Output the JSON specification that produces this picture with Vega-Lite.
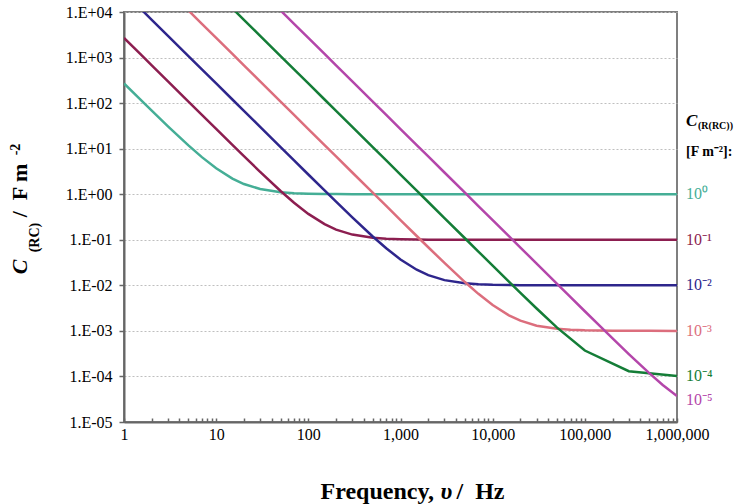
{
  "$schema": "https://vega.github.io/schema/vega-lite/v6.json",
  "width": 553,
  "height": 410,
  "autosize": {"type": "none"},
  "padding": {"left": 124, "top": 12, "right": 61, "bottom": 82},
  "background": "white",
  "config": {"view": {"stroke": "#7f7f7f", "strokeWidth": 2}, "font": "Liberation Serif"},
  "datasets": {
    "curves": [
      {"s":"s0","f":1,"c":271},{"s":"s0","f":1.5,"c":121},{"s":"s0","f":2,"c":68.5},{"s":"s0","f":3,"c":31},{"s":"s0","f":5,"c":11.8},{"s":"s0","f":7,"c":6.51},{"s":"s0","f":10,"c":3.7},{"s":"s0","f":15,"c":2.2},{"s":"s0","f":20,"c":1.675},{"s":"s0","f":30,"c":1.3},{"s":"s0","f":50,"c":1.108},{"s":"s0","f":70,"c":1.055},{"s":"s0","f":100,"c":1.027},{"s":"s0","f":150,"c":1.012},{"s":"s0","f":200,"c":1.0068},{"s":"s0","f":300,"c":1.003},{"s":"s0","f":500,"c":1.001},{"s":"s0","f":1000,"c":1.0003},{"s":"s0","f":10000,"c":1},{"s":"s0","f":100000,"c":1},{"s":"s0","f":1000000,"c":1},
      {"s":"s1","f":1,"c":2700},{"s":"s1","f":1.5,"c":1200},{"s":"s1","f":2,"c":675},{"s":"s1","f":3,"c":300},{"s":"s1","f":5,"c":108},{"s":"s1","f":7,"c":55.2},{"s":"s1","f":10,"c":27.1},{"s":"s1","f":15,"c":12.1},{"s":"s1","f":20,"c":6.85},{"s":"s1","f":30,"c":3.1},{"s":"s1","f":50,"c":1.18},{"s":"s1","f":70,"c":0.651},{"s":"s1","f":100,"c":0.37},{"s":"s1","f":150,"c":0.22},{"s":"s1","f":200,"c":0.1675},{"s":"s1","f":300,"c":0.13},{"s":"s1","f":500,"c":0.1108},{"s":"s1","f":700,"c":0.1055},{"s":"s1","f":1000,"c":0.1027},{"s":"s1","f":1500,"c":0.1012},{"s":"s1","f":2000,"c":0.1007},{"s":"s1","f":3000,"c":0.1003},{"s":"s1","f":5000,"c":0.1001},{"s":"s1","f":10000,"c":0.1},{"s":"s1","f":100000,"c":0.1},{"s":"s1","f":1000000,"c":0.1},
      {"s":"s2","f":1,"c":27000},{"s":"s2","f":1.5,"c":12000},{"s":"s2","f":2,"c":6750},{"s":"s2","f":3,"c":3000},{"s":"s2","f":5,"c":1080},{"s":"s2","f":7,"c":551},{"s":"s2","f":10,"c":270},{"s":"s2","f":15,"c":120},{"s":"s2","f":20,"c":67.5},{"s":"s2","f":30,"c":30},{"s":"s2","f":50,"c":10.8},{"s":"s2","f":70,"c":5.52},{"s":"s2","f":100,"c":2.71},{"s":"s2","f":150,"c":1.21},{"s":"s2","f":200,"c":0.685},{"s":"s2","f":300,"c":0.31},{"s":"s2","f":500,"c":0.118},{"s":"s2","f":700,"c":0.0651},{"s":"s2","f":1000,"c":0.037},{"s":"s2","f":1500,"c":0.022},{"s":"s2","f":2000,"c":0.01675},{"s":"s2","f":3000,"c":0.013},{"s":"s2","f":5000,"c":0.01108},{"s":"s2","f":7000,"c":0.01055},{"s":"s2","f":10000,"c":0.01027},{"s":"s2","f":20000,"c":0.01007},{"s":"s2","f":50000,"c":0.01001},{"s":"s2","f":100000,"c":0.01},{"s":"s2","f":1000000,"c":0.01},
      {"s":"s3","f":5,"c":10800},{"s":"s3","f":7,"c":5510},{"s":"s3","f":10,"c":2700},{"s":"s3","f":15,"c":1200},{"s":"s3","f":20,"c":675},{"s":"s3","f":30,"c":300},{"s":"s3","f":50,"c":108},{"s":"s3","f":70,"c":55.1},{"s":"s3","f":100,"c":27},{"s":"s3","f":150,"c":12},{"s":"s3","f":200,"c":6.75},{"s":"s3","f":300,"c":3},{"s":"s3","f":500,"c":1.081},{"s":"s3","f":700,"c":0.552},{"s":"s3","f":1000,"c":0.271},{"s":"s3","f":1500,"c":0.121},{"s":"s3","f":2000,"c":0.0685},{"s":"s3","f":3000,"c":0.031},{"s":"s3","f":5000,"c":0.0118},{"s":"s3","f":7000,"c":0.00651},{"s":"s3","f":10000,"c":0.0037},{"s":"s3","f":15000,"c":0.0022},{"s":"s3","f":20000,"c":0.001675},{"s":"s3","f":30000,"c":0.0013},{"s":"s3","f":50000,"c":0.001108},{"s":"s3","f":70000,"c":0.001055},{"s":"s3","f":100000,"c":0.001027},{"s":"s3","f":200000,"c":0.001007},{"s":"s3","f":500000,"c":0.001001},{"s":"s3","f":1000000,"c":0.001},
      {"s":"s4","f":15,"c":12000},{"s":"s4","f":20,"c":6750},{"s":"s4","f":30,"c":3000},{"s":"s4","f":50,"c":1080},{"s":"s4","f":70,"c":551},{"s":"s4","f":100,"c":270},{"s":"s4","f":150,"c":120},{"s":"s4","f":200,"c":67.5},{"s":"s4","f":300,"c":30},{"s":"s4","f":500,"c":10.8},{"s":"s4","f":700,"c":5.51},{"s":"s4","f":1000,"c":2.7},{"s":"s4","f":1500,"c":1.2},{"s":"s4","f":2000,"c":0.675},{"s":"s4","f":3000,"c":0.3},{"s":"s4","f":5000,"c":0.108},{"s":"s4","f":7000,"c":0.0551},{"s":"s4","f":10000,"c":0.0271},{"s":"s4","f":15000,"c":0.0121},{"s":"s4","f":20000,"c":0.00685},{"s":"s4","f":30000,"c":0.0031},{"s":"s4","f":50000,"c":0.00118},{"s":"s4","f":100000,"c":0.00037},{"s":"s4","f":300000,"c":0.00013},{"s":"s4","f":1000000,"c":0.0001027},
      {"s":"s5","f":50,"c":10800},{"s":"s5","f":70,"c":5510},{"s":"s5","f":100,"c":2700},{"s":"s5","f":150,"c":1200},{"s":"s5","f":200,"c":675},{"s":"s5","f":300,"c":300},{"s":"s5","f":500,"c":108},{"s":"s5","f":700,"c":55.1},{"s":"s5","f":1000,"c":27},{"s":"s5","f":1500,"c":12},{"s":"s5","f":2000,"c":6.75},{"s":"s5","f":3000,"c":3},{"s":"s5","f":5000,"c":1.08},{"s":"s5","f":7000,"c":0.551},{"s":"s5","f":10000,"c":0.27},{"s":"s5","f":15000,"c":0.12},{"s":"s5","f":20000,"c":0.0675},{"s":"s5","f":30000,"c":0.03},{"s":"s5","f":50000,"c":0.0108},{"s":"s5","f":70000,"c":0.00551},{"s":"s5","f":100000,"c":0.0027},{"s":"s5","f":150000,"c":0.00121},{"s":"s5","f":200000,"c":0.000685},{"s":"s5","f":300000,"c":0.00031},{"s":"s5","f":500000,"c":0.000118},{"s":"s5","f":700000,"c":0.0000651},{"s":"s5","f":1000000,"c":0.000037}
    ],
    "labels": [
      {"s":"s0","t":"10⁰","y":1},
      {"s":"s1","t":"10⁻¹","y":0.1},
      {"s":"s2","t":"10⁻²","y":0.01},
      {"s":"s3","t":"10⁻³","y":0.001},
      {"s":"s4","t":"10⁻⁴","y":0.0001},
      {"s":"s5","t":"10⁻⁵","y":0.00003}
    ]
  },
  "layer": [
    {
      "data": {"name": "curves"},
      "mark": {"type": "line", "clip": true, "strokeWidth": 2.5},
      "encoding": {
        "x": {
          "field": "f", "type": "quantitative",
          "scale": {"type": "log", "domain": [1, 1000000], "nice": false},
          "axis": {
            "title": null,
            "values": [1,2,3,4,5,6,7,8,9,10,20,30,40,50,60,70,80,90,100,200,300,400,500,600,700,800,900,1000,2000,3000,4000,5000,6000,7000,8000,9000,10000,20000,30000,40000,50000,60000,70000,80000,90000,100000,200000,300000,400000,500000,600000,700000,800000,900000,1000000],
            "labelExpr": "indexof([1,10,100,1000,10000,100000,1000000], datum.value) >= 0 ? format(datum.value, ',') : ''",
            "grid": false,
            "tickSize": -4,
            "tickColor": "#666666",
            "tickWidth": 1.5,
            "domainColor": "#666666",
            "domainWidth": 2,
            "labelFont": "Liberation Serif",
            "labelFontSize": 16,
            "labelColor": "black",
            "labelPadding": 8,
            "labelOverlap": false,
            "labelFlush": false
          }
        },
        "y": {
          "field": "c", "type": "quantitative",
          "scale": {"type": "log", "domain": [0.00001, 10000], "nice": false},
          "axis": {
            "title": null,
            "values": [0.00001,0.0001,0.001,0.01,0.1,1,10,100,1000,10000],
            "labelExpr": "'1.E' + (round(log(datum.value)/LN10) >= 0 ? '+' : '-') + '0' + abs(round(log(datum.value)/LN10))",
            "grid": true,
            "gridColor": "#bfbfbf",
            "gridDash": [2, 2],
            "gridWidth": 1,
            "tickSize": 5,
            "tickColor": "#666666",
            "tickWidth": 1.5,
            "domainColor": "#666666",
            "domainWidth": 2,
            "labelFont": "Liberation Serif",
            "labelFontSize": 16,
            "labelColor": "black",
            "labelPadding": 7,
            "labelOverlap": false
          }
        },
        "color": {
          "field": "s", "type": "nominal",
          "scale": {"domain": ["s0","s1","s2","s3","s4","s5"], "range": ["#45AE96","#8C1E50","#2E268C","#DC6E7D","#147D37","#B446AA"]},
          "legend": null
        }
      }
    },
    {
      "data": {"name": "labels"},
      "mark": {"type": "text", "align": "left", "baseline": "middle", "dx": 9, "font": "Liberation Serif", "fontSize": 16},
      "encoding": {
        "x": {"datum": 1000000, "type": "quantitative"},
        "y": {"field": "y", "type": "quantitative"},
        "text": {"field": "t"},
        "color": {"field": "s", "type": "nominal", "legend": null}
      }
    },
    {
      "data": {"values": [{"t": "C"}]},
      "mark": {"type": "text", "align": "left", "baseline": "middle", "dx": 9, "font": "Liberation Serif", "fontSize": 17, "fontWeight": "bold", "fontStyle": "italic", "color": "black"},
      "encoding": {"x": {"datum": 1000000, "type": "quantitative"}, "y": {"datum": 40, "type": "quantitative"}, "text": {"field": "t"}}
    },
    {
      "data": {"values": [{"t": "(R(RC))"}]},
      "mark": {"type": "text", "align": "left", "baseline": "middle", "dx": 21, "dy": 5, "font": "Liberation Serif", "fontSize": 10, "fontWeight": "bold", "color": "black"},
      "encoding": {"x": {"datum": 1000000, "type": "quantitative"}, "y": {"datum": 40, "type": "quantitative"}, "text": {"field": "t"}}
    },
    {
      "data": {"values": [{"t": "[F m⁻²]:"}]},
      "mark": {"type": "text", "align": "left", "baseline": "middle", "dx": 9, "font": "Liberation Serif", "fontSize": 14, "fontWeight": "bold", "color": "black"},
      "encoding": {"x": {"datum": 1000000, "type": "quantitative"}, "y": {"datum": 8.5, "type": "quantitative"}, "text": {"field": "t"}}
    },
    {
      "data": {"values": [{"t": "C"}]},
      "mark": {"type": "text", "align": "left", "baseline": "alphabetic", "angle": 270, "dx": 11, "dy": -97, "font": "Liberation Serif", "fontSize": 22, "fontWeight": "bold", "fontStyle": "italic", "color": "black"},
      "encoding": {"x": {"datum": 1, "type": "quantitative"}, "y": {"datum": 0.01, "type": "quantitative"}, "text": {"field": "t"}}
    },
    {
      "data": {"values": [{"t": "(RC)"}]},
      "mark": {"type": "text", "align": "left", "baseline": "alphabetic", "angle": 270, "dx": 33, "dy": -85, "font": "Liberation Serif", "fontSize": 14, "fontWeight": "bold", "color": "black"},
      "encoding": {"x": {"datum": 1, "type": "quantitative"}, "y": {"datum": 0.01, "type": "quantitative"}, "text": {"field": "t"}}
    },
    {
      "data": {"values": [{"t": "/\u00a0\u00a0F m"}]},
      "mark": {"type": "text", "align": "left", "baseline": "alphabetic", "angle": 270, "dx": 68, "dy": -97, "font": "Liberation Serif", "fontSize": 22, "fontWeight": "bold", "color": "black"},
      "encoding": {"x": {"datum": 1, "type": "quantitative"}, "y": {"datum": 0.01, "type": "quantitative"}, "text": {"field": "t"}}
    },
    {
      "data": {"values": [{"t": "-2"}]},
      "mark": {"type": "text", "align": "left", "baseline": "alphabetic", "angle": 270, "dx": 130, "dy": -104, "font": "Liberation Serif", "fontSize": 14, "fontWeight": "bold", "color": "black"},
      "encoding": {"x": {"datum": 1, "type": "quantitative"}, "y": {"datum": 0.01, "type": "quantitative"}, "text": {"field": "t"}}
    },
    {
      "data": {"values": [{"t": "Frequency,"}]},
      "mark": {"type": "text", "align": "left", "baseline": "alphabetic", "dx": -80, "dy": 77, "font": "Liberation Serif", "fontSize": 24, "fontWeight": "bold", "color": "black"},
      "encoding": {"x": {"datum": 1000, "type": "quantitative"}, "y": {"datum": 0.00001, "type": "quantitative"}, "text": {"field": "t"}}
    },
    {
      "data": {"values": [{"t": "υ"}]},
      "mark": {"type": "text", "align": "left", "baseline": "alphabetic", "dx": 40, "dy": 77, "font": "Liberation Serif", "fontSize": 24, "fontWeight": "bold", "fontStyle": "italic", "color": "black"},
      "encoding": {"x": {"datum": 1000, "type": "quantitative"}, "y": {"datum": 0.00001, "type": "quantitative"}, "text": {"field": "t"}}
    },
    {
      "data": {"values": [{"t": "/\u00a0\u00a0Hz"}]},
      "mark": {"type": "text", "align": "left", "baseline": "alphabetic", "dx": 56, "dy": 77, "font": "Liberation Serif", "fontSize": 24, "fontWeight": "bold", "color": "black"},
      "encoding": {"x": {"datum": 1000, "type": "quantitative"}, "y": {"datum": 0.00001, "type": "quantitative"}, "text": {"field": "t"}}
    }
  ]
}
